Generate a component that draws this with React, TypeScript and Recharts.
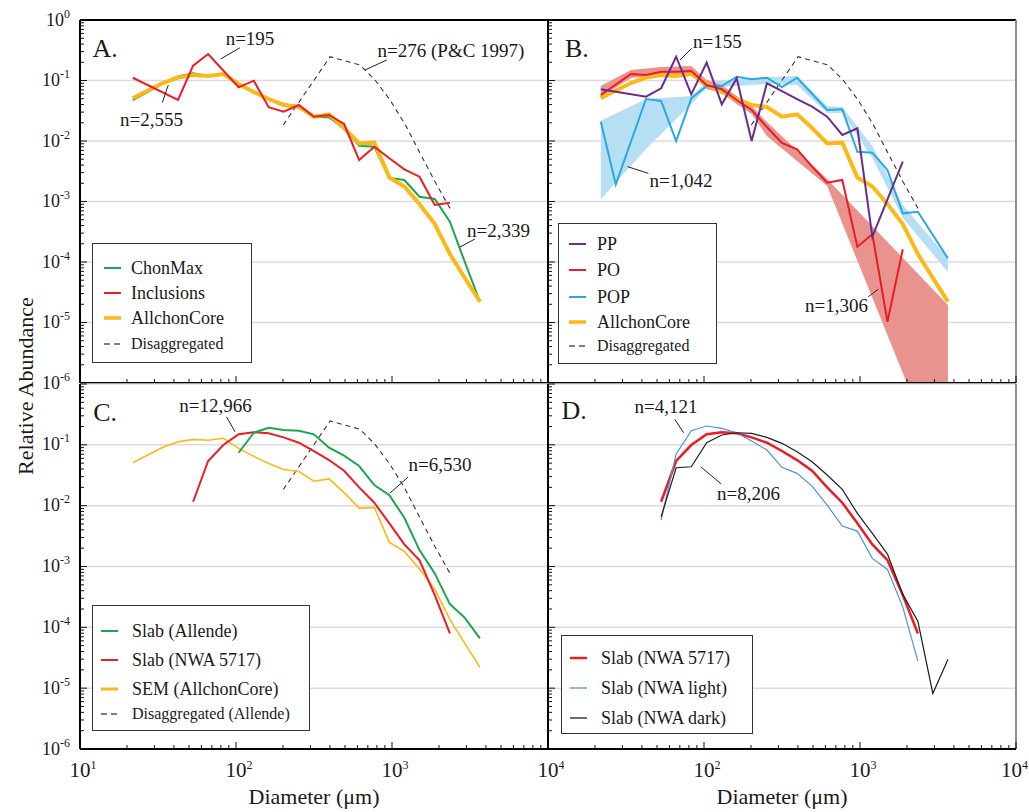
import React from 'react'
import {
  ComposedChart, Line, Area, XAxis, YAxis, CartesianGrid,
  ReferenceLine, ReferenceDot,
} from 'recharts'

const serif = '"Liberation Serif", "Times New Roman", Times, serif'

// size bins (µm) shared by all binned series
const bins = [21.8, 27.2, 34, 42.5, 53.1, 66.3, 82.9, 104, 130, 162, 202, 253, 316, 395, 493, 616, 770, 962, 1200, 1500, 1880, 2350, 2930, 3660]

// panel A
const allchonCore = [0.0508, 0.0681, 0.0909, 0.112, 0.123, 0.119, 0.128, 0.0875, 0.0646, 0.0494, 0.0394, 0.0365, 0.0252, 0.0276, 0.0164, 0.0091, 0.00938, 0.00249, 0.00177, 0.00091, 0.000425, 0.000135, 0.0000545, 0.0000221]
const chonMax = [0.0476, 0.0646, 0.0892, 0.1165, 0.1315, 0.119, 0.1257, 0.0875, 0.0646, 0.0494, 0.0409, 0.0372, 0.0249, 0.0247, 0.0158, 0.00836, 0.00805, 0.00245, 0.00227, 0.0012, 0.0011, 0.000464, 0.0001, 0.0000221]
const inclusions = [0.111, null, null, 0.0476, 0.176, 0.274, null, 0.0772, 0.0993, 0.0361, 0.0305, 0.0394, 0.0252, 0.0269, 0.0191, 0.00485, 0.00805, 0.00518, 0.0034, 0.00257, 0.000875, 0.000955, null, null]

// disaggregated chondrules (P&C 1997)
const disaggSizes = [201, 401, 624, 778, 971, 1211, 1510, 1887, 2354]
const disaggValues = [0.0184, 0.247, 0.18, 0.102, 0.0476, 0.0191, 0.00633, 0.00212, 0.00077]

// panel B
const pp = [0.0716, null, null, 0.054, 0.0743, 0.247, 0.0591, 0.197, 0.0404, 0.1087, 0.01, 0.0899, 0.067, 0.0494, 0.0369, 0.0252, 0.01256, 0.0162, 0.000262, null, 0.00455, null, null, null]
const po = [0.0576, null, 0.128, 0.123, 0.14, 0.14, 0.1436, 0.0843, 0.0716, 0.0476, 0.0325, 0.017, 0.00927, 0.0073, 0.00376, 0.00205, 0.00227, 0.000179, 0.000287, 0.0000103, 0.000162, null, null, null]
const pop = [0.0208, 0.00192, null, 0.0494, 0.0458, 0.01, 0.0508, 0.0811, 0.0811, 0.1156, 0.1047, 0.1112, 0.0781, 0.1112, null, 0.0325, 0.0334, 0.00665, 0.00641, 0.00332, 0.000638, 0.000678, null, 0.000115]

const poBandSizes = [21.8, 34, 53.1, 82.9, 104, 130, 162, 202, 253, 616, 3660]
const poBandLow = [0.0534, 0.11, 0.123, 0.123, 0.0724, 0.0621, 0.0409, 0.0279, 0.0121, 0.0018, 2.1e-8]
const poBandHigh = [0.0811, 0.149, 0.167, 0.174, 0.102, 0.0843, 0.0554, 0.0379, 0.0206, 0.00236, 0.0000195]

const popBandSizes = [21.8, 42.5, 82.9, 104, 253, 395, 616, 770, 1200, 1880, 3660]
const popBandLow = [0.00109, 0.00738, 0.0409, 0.0752, 0.0875, 0.0843, 0.029, 0.029, 0.00524, 0.000533, 0.0000684]
const popBandHigh = [0.0217, 0.0494, 0.0554, 0.0945, 0.1142, 0.1187, 0.0379, 0.0365, 0.00827, 0.000875, 0.0001164]

// panels C & D
const slabAllende = [null, null, null, null, null, null, null, 0.0741, 0.158, 0.191, 0.175, 0.1706, 0.149, 0.0896, 0.0662, 0.0448, 0.0218, 0.0149, 0.00632, 0.00186, 0.00077, 0.000241, 0.000143, 0.0000657]
const slabNWA = [null, null, null, null, 0.0116, 0.0542, 0.0993, 0.149, 0.1606, 0.1545, 0.1328, 0.1083, 0.0791, 0.0562, 0.0375, 0.02, 0.01117, 0.00512, 0.00231, 0.00127, 0.000339, 0.0000794, null, null]
const nwaLight = [null, null, null, null, 0.0058, 0.0706, 0.1706, 0.204, 0.1868, 0.158, 0.1155, 0.082, 0.0427, 0.034, 0.021, 0.01023, 0.00462, 0.00382, 0.00136, 0.000896, 0.000217, 0.0000278, null, null]
const nwaDark = [null, null, null, null, 0.00657, 0.042, 0.0436, 0.1083, 0.145, 0.158, 0.1545, 0.1328, 0.1059, 0.077, 0.0527, 0.0319, 0.0185, 0.00747, 0.0035, 0.0016, 0.000348, 0.0001256, 0.00000818, 0.0000297]

// axes
const xDecades = [10, 100, 1000, 10000]
const yDecades = [1e-6, 1e-5, 1e-4, 1e-3, 1e-2, 1e-1, 1]
const minorSteps = [1, 2, 3, 4, 5, 6, 7, 8, 9]
const xTicks = xDecades.flatMap((d, i) => (i === xDecades.length - 1 ? [d] : minorSteps.map((m) => m * d)))
const yTicks = yDecades.flatMap((d, i) => (i === yDecades.length - 1 ? [d] : minorSteps.map((m) => m * d)))

const C = {
  green: '#19a84b', red: '#ec1c24', yellow: '#fbb818', purple: '#6a2c8e',
  blue: '#29a9e0', lightBlue: '#4d93da', dark: '#1e1e1e', dash: '#333',
  poBand: '#e8938e', popBand: '#b6dff3',
}

const toPts = (xs: number[], ys: (number | null)[]) =>
  xs.map((d, i) => ({ d, v: ys[i] })).filter((p) => p.v != null)
const toBand = (xs: number[], lo: number[], hi: number[]) =>
  xs.map((d, i) => ({ d, r: [lo[i], hi[i]] }))

const isDecade = (v: number) => Math.abs(Math.log10(v) - Math.round(Math.log10(v))) < 1e-6

function XTick(props: any) {
  const { x, y, payload, labels, clampLast } = props
  const v = payload.value
  const major = isDecade(v)
  const e = Math.round(Math.log10(v))
  // keep the right-most label inside the page
  const shift = clampLast && e === 4 ? 15 : 10.5
  return (
    <g>
      <line x1={x} x2={x} y1={y} y2={y - (major ? 7 : 4)} stroke="#111" strokeWidth={1} />
      {major && labels.includes(e) && (
        <text x={x - shift} y={y + 28} fontFamily={serif} fontSize={21} fill="#1a1a1a">
          10<tspan fontSize={12} dy={-8}>{e}</tspan>
        </text>
      )}
    </g>
  )
}

function YTick(props: any) {
  const { x, y, payload, labels } = props
  const v = payload.value
  const major = isDecade(v)
  const e = Math.round(Math.log10(v))
  return (
    <g>
      <line x1={x} x2={x + (major ? 7 : 4)} y1={y} y2={y} stroke="#111" strokeWidth={1} />
      {major && labels.includes(e) && (
        <text x={x - 10} y={y + 5.5} textAnchor="end" fontFamily={serif} fontSize={18} fill="#1a1a1a">
          10<tspan fontSize={12} dy={-8}>{e}</tspan>
        </text>
      )}
    </g>
  )
}

const PW = 468

function Panel({ left, top, height, yLabels, xLabels, frameTop, frameRight, children }: any) {
  const yw = yLabels.length ? 80 : 4
  const xh = xLabels.length ? 50 : 12
  const mt = 16
  const mr = 16
  return (
    <div style={{ position: 'absolute', left: left - yw, top: top - mt }}>
      <ComposedChart width={yw + PW + mr} height={mt + height + xh} margin={{ top: mt, right: mr, bottom: 0, left: 0 }}>
        <CartesianGrid yAxisId="grid" vertical={false} stroke="#dcdcdc" strokeWidth={1.5} />
        <XAxis dataKey="d" type="number" scale="log" domain={[10, 10000]} allowDataOverflow
          ticks={xTicks} interval={0} height={xh} tickSize={0} tickMargin={0} tickLine={false}
          axisLine={{ stroke: '#000', strokeWidth: 2 }} tick={<XTick labels={xLabels} clampLast={!!frameRight} />} />
        <YAxis type="number" scale="log" domain={[1e-6, 1]} allowDataOverflow
          ticks={yTicks} interval={0} width={yw} tickSize={0} tickMargin={0} tickLine={false}
          axisLine={{ stroke: '#000', strokeWidth: 2 }} tick={<YTick labels={yLabels} />} />
        <YAxis yAxisId="grid" hide type="number" scale="log" domain={[1e-6, 1]} allowDataOverflow ticks={yDecades} />
        {frameTop && <ReferenceLine y={1} stroke="#000" strokeWidth={2} />}
        {frameRight && <ReferenceLine x={10000} stroke="#8c8c8c" strokeWidth={2} />}
        {children}
      </ComposedChart>
    </div>
  )
}

const note = (x: number, y: number, text: string, size = 19) => (
  <ReferenceDot x={x} y={y} r={0} fill="none" stroke="none"
    label={{ value: text, position: 'center', fill: '#1a1a1a', fontSize: size, fontFamily: serif }} />
)
const leader = (x1: number, y1: number, x2: number, y2: number) => (
  <ReferenceLine segment={[{ x: x1, y: y1 }, { x: x2, y: y2 }]} stroke="#222" strokeWidth={1} />
)

const line = (data: any[], color: string, width: number, dashed = false) => (
  <Line data={data} dataKey="v" type="linear" stroke={color} strokeWidth={width}
    strokeDasharray={dashed ? '5 4' : undefined} dot={false} activeDot={false} isAnimationActive={false} />
)

const legendA = [
  { name: 'ChonMax', color: C.green, width: 2 },
  { name: 'Inclusions', color: C.red, width: 2 },
  { name: 'AllchonCore', color: C.yellow, width: 3.5 },
  { name: 'Disaggregated', color: '#555', width: 1.5, dashed: true, size: 16 },
]
const legendB = [
  { name: 'PP', color: C.purple, width: 2 },
  { name: 'PO', color: C.red, width: 2 },
  { name: 'POP', color: C.blue, width: 2 },
  { name: 'AllchonCore', color: C.yellow, width: 3.5 },
  { name: 'Disaggregated', color: '#555', width: 1.5, dashed: true, size: 16 },
]
const legendC = [
  { name: 'Slab (Allende)', color: C.green, width: 2 },
  { name: 'Slab (NWA 5717)', color: C.red, width: 2 },
  { name: 'SEM (AllchonCore)', color: C.yellow, width: 3 },
  { name: 'Disaggregated (Allende)', color: '#555', width: 1.5, dashed: true, size: 16 },
]
const legendD = [
  { name: 'Slab (NWA 5717)', color: C.red, width: 2.5 },
  { name: 'Slab (NWA light)', color: C.lightBlue, width: 1.3 },
  { name: 'Slab (NWA dark)', color: C.dark, width: 1.3 },
]

function LegendBox({ x, y, w, h, rows, sx, tx, items }: any) {
  return (
    <div style={{ position: 'absolute', left: x, top: y, width: w, height: h, border: '1px solid #333', background: '#fff', boxSizing: 'border-box' }}>
      {items.map((it: any, i: number) => (
        <div key={it.name} style={{ position: 'absolute', left: 0, top: rows[i] - 12, height: 24, width: '100%' }}>
          <svg style={{ position: 'absolute', left: sx[0], top: 0 }} width={sx[1] - sx[0]} height={24}>
            <line x1={0} x2={sx[1] - sx[0]} y1={12} y2={12} stroke={it.color} strokeWidth={it.width}
              strokeDasharray={it.dashed ? '6 4' : undefined} />
          </svg>
          <span style={{ position: 'absolute', left: tx, top: 0, lineHeight: '24px', fontSize: it.size ?? 18, color: '#1a1a1a', whiteSpace: 'nowrap', fontFamily: serif }}>
            {it.name}
          </span>
        </div>
      ))}
    </div>
  )
}

const topLabels = [0, -1, -2, -3, -4, -5, -6]
const bottomLabels = [-1, -2, -3, -4, -5, -6]

export default function App() {
  const core = toPts(bins, allchonCore)
  const disagg = toPts(disaggSizes, disaggValues)
  return (
    <div style={{ position: 'absolute', left: 0, top: 0, width: 1029, height: 812, background: '#fff', fontFamily: serif }}>
      {/* A */}
      <Panel left={80} top={20} height={363} yLabels={topLabels} xLabels={[]} frameTop>
        {line(disagg, C.dash, 1.1, true)}
        {line(toPts(bins, chonMax), C.green, 2)}
        {line(core, C.yellow, 4)}
        {line(toPts(bins, inclusions), C.red, 2)}
        {note(14.5, 0.344, 'A.', 26)}
        {note(123, 0.494, 'n=195')}
        {leader(79.8, 0.227, 106, 0.348)}
        {note(28.7, 0.0227, 'n=2,555')}
        {leader(33.7, 0.043, 36.8, 0.0843)}
        {note(2388, 0.313, 'n=276 (P&C 1997)')}
        {leader(671, 0.149, 925, 0.218)}
        {note(4820, 0.000338, 'n=2,339')}
        {leader(2729, 0.000177, 3404, 0.00024)}
      </Panel>

      {/* B */}
      <Panel left={548} top={20} height={363} yLabels={[]} xLabels={[]} frameTop frameRight>
        <Area data={toBand(popBandSizes, popBandLow, popBandHigh)} dataKey="r" type="linear" stroke="none" fill={C.popBand} fillOpacity={1} isAnimationActive={false} />
        <Area data={toBand(poBandSizes, poBandLow, poBandHigh)} dataKey="r" type="linear" stroke="none" fill={C.poBand} fillOpacity={1} isAnimationActive={false} />
        {line(disagg, C.dash, 1.1, true)}
        {line(core, C.yellow, 4)}
        {line(toPts(bins, pop), C.blue, 2)}
        {line(toPts(bins, po), C.red, 2)}
        {line(toPts(bins, pp), C.purple, 2)}
        {note(15.3, 0.344, 'B.', 26)}
        {note(122, 0.441, 'n=155')}
        {leader(70.2, 0.218, 83.4, 0.34)}
        {note(71.3, 0.00227, 'n=1,042')}
        {leader(32.4, 0.00376, 44, 0.00292)}
        {note(707, 0.0000195, 'n=1,306')}
        {leader(1130, 0.0000267, 1309, 0.0000354)}
      </Panel>

      {/* C */}
      <Panel left={80} top={384} height={365} yLabels={bottomLabels} xLabels={[1, 2, 3, 4]}>
        {line(disagg, C.dash, 1.1, true)}
        {line(core, C.yellow, 1.6)}
        {line(toPts(bins, slabNWA), C.red, 2)}
        {line(toPts(bins, slabAllende), C.green, 2)}
        {note(14.5, 0.346, 'C.', 26)}
        {note(74, 0.443, 'n=12,966')}
        {leader(87.1, 0.287, 98.6, 0.164)}
        {note(2032, 0.0474, 'n=6,530')}
        {leader(970, 0.0161, 1268, 0.0295)}
      </Panel>

      {/* D */}
      <Panel left={548} top={384} height={365} yLabels={[]} xLabels={[2, 3, 4]} frameRight>
        {line(toPts(bins, slabNWA), C.red, 2.5)}
        {line(toPts(bins, nwaLight), C.lightBlue, 1.2)}
        {line(toPts(bins, nwaDark), C.dark, 1.2)}
        {note(14.7, 0.374, 'D.', 26)}
        {note(57, 0.426, 'n=4,121')}
        {leader(64.9, 0.263, 74.1, 0.158)}
        {note(193, 0.0158, 'n=8,206')}
        {leader(95.3, 0.0436, 129, 0.0227)}
      </Panel>

      <svg width={1029} height={812} style={{ position: 'absolute', left: 0, top: 0, pointerEvents: 'none' }}>
        <text transform="translate(33,386) rotate(-90)" textAnchor="middle" fontSize={22} fontFamily={serif} fill="#1a1a1a">
          Relative Abundance
        </text>
        <text x={314} y={804} textAnchor="middle" fontSize={22} fontFamily={serif} fill="#1a1a1a">Diameter (μm)</text>
        <text x={782} y={804} textAnchor="middle" fontSize={22} fontFamily={serif} fill="#1a1a1a">Diameter (μm)</text>
      </svg>

      <LegendBox x={92} y={243} w={160} h={120} rows={[24, 48.5, 74, 100]} sx={[11, 28]} tx={38} items={legendA} />
      <LegendBox x={558} y={223} w={159} h={141} rows={[20, 46, 72.5, 98, 122]} sx={[10, 27]} tx={38} items={legendB} />
      <LegendBox x={92} y={605} w={218} h={126} rows={[25, 54, 82.5, 107.5]} sx={[8, 25]} tx={39} items={legendC} />
      <LegendBox x={561} y={635} w={192} h={99} rows={[22, 52, 82]} sx={[8, 25]} tx={39} items={legendD} />
    </div>
  )
}
